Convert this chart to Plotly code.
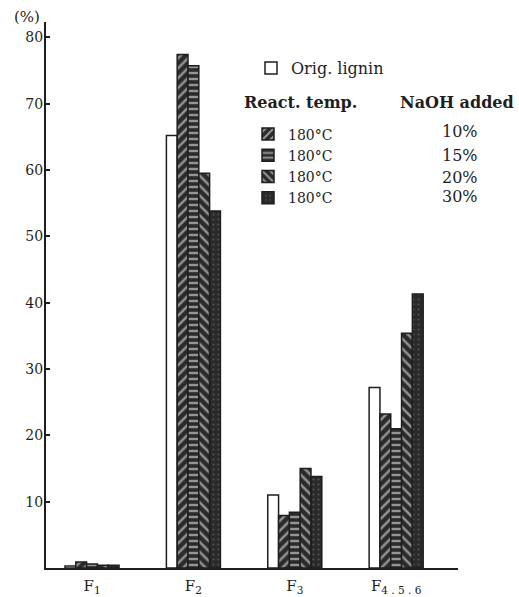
import plotly.graph_objects as go

# Fractions and their yields (%)
categories = ["F<sub>1</sub>", "F<sub>2</sub>", "F<sub>3</sub>", "F<sub>4 . 5 . 6</sub>"]
orig_lignin = [0.3, 65.2, 11.0, 27.2]
naoh_10 = [0.9, 77.4, 7.9, 23.2]
naoh_15 = [0.6, 75.7, 8.4, 21.0]
naoh_20 = [0.4, 59.5, 15.0, 35.4]
naoh_30 = [0.4, 53.8, 13.8, 41.3]

react_temps = ["180°C", "180°C", "180°C", "180°C"]
naoh_added = ["10%", "15%", "20%", "30%"]
y_ticks = [10, 20, 30, 40, 50, 60, 70, 80]

FONT = "DejaVu Serif"
INK = "#1e1e1e"
DARK = "#2a2a2a"

W, H = 519, 597
L, R, T, B = 46, 61, 22, 29
PW, PH = W - L - R, H - T - B


def px(x):
    return (x - L) / PW


def py(y):
    return (H - B - y) / PH


patterns = [
    dict(shape="", bgcolor="white"),
    dict(shape="/", bgcolor=DARK, fgcolor="white", size=7, solidity=0.35),
    dict(shape="-", bgcolor=DARK, fgcolor="white", size=6, solidity=0.4),
    dict(shape="\\", bgcolor=DARK, fgcolor="white", size=7, solidity=0.35),
    dict(shape=".", bgcolor=DARK, fgcolor="#777777", size=5, solidity=0.15),
]
series = [orig_lignin, naoh_10, naoh_15, naoh_20, naoh_30]
names = ["Orig. lignin"] + react_temps

fig = go.Figure()
for i, (vals, name, pat) in enumerate(zip(series, names, patterns)):
    fig.add_trace(go.Bar(
        x=categories, y=vals, name=name, showlegend=True,
        marker=dict(color="white" if i == 0 else DARK,
                    line=dict(color=INK, width=1.5), pattern=pat),
        legend="legend" if i == 0 else "legend2",
    ))

fig.update_layout(
    width=W, height=H, autosize=False, showlegend=True,
    margin=dict(l=L, r=R, t=T, b=B),
    paper_bgcolor="white", plot_bgcolor="white",
    barmode="group", bargap=0.467, bargroupgap=0,
    font=dict(family=FONT, color=INK, size=14),
    legend=dict(x=px(251), y=py(68), xanchor="left", yanchor="middle",
                font=dict(family=FONT, size=16, color=INK),
                bgcolor="rgba(0,0,0,0)", borderwidth=0),
    legend2=dict(x=px(248), y=py(166), xanchor="left", yanchor="middle",
                 font=dict(family=FONT, size=14, color=INK),
                 bgcolor="rgba(0,0,0,0)", borderwidth=0, traceorder="normal"),
    xaxis=dict(range=[-0.454, 3.61], showline=True, linecolor=INK, linewidth=2,
               ticks="", showgrid=False, zeroline=False, ticklabelstandoff=3,
               automargin=False,
               tickfont=dict(family=FONT, size=15, color=INK)),
    yaxis=dict(range=[0, 82.3], showline=True, linecolor=INK, linewidth=2,
               tickvals=y_ticks, ticks="inside", ticklen=4, tickwidth=2,
               tickcolor=INK, showgrid=False, zeroline=False, ticklabelstandoff=-2,
               automargin=False,
               tickfont=dict(family=FONT, size=14, color=INK)),
)

annotations = [
    dict(text="(%)", x=px(27), y=py(17), font=dict(family=FONT, size=15, color=INK)),
    dict(text="<b>React. temp.</b>", x=px(300), y=py(102),
         font=dict(family=FONT, size=16, color=INK)),
    dict(text="<b>NaOH added</b>", x=px(457), y=py(102),
         font=dict(family=FONT, size=16, color=INK)),
]
for lab, yy in zip(naoh_added, [132, 155, 177, 197]):
    annotations.append(dict(text=lab, x=px(460), y=py(yy),
                            font=dict(family=FONT, size=16, color=INK)))
for a in annotations:
    fig.add_annotation(xref="paper", yref="paper", showarrow=False,
                       xanchor="center", yanchor="middle", **a)

fig.write_html("out.html")
